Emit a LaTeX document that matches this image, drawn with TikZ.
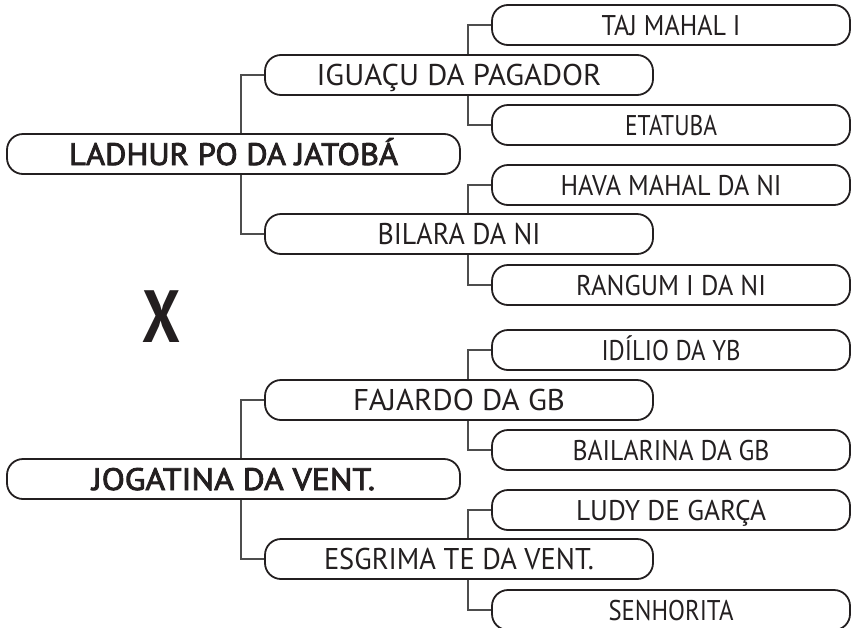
\documentclass[tikz,border=0pt]{standalone}
\usepackage{graphicx}
\usepackage{fontspec}
\setmainfont{PT Sans}
\newfontfamily\rootfont{PT Sans}[FakeBold=2.6]
\definecolor{ink}{HTML}{231F20}
\definecolor{wire}{HTML}{4D4D4D}
\newcommand{\fitto}[2]{\resizebox{#1}{\height}{#2}}
\begin{document}
\begin{tikzpicture}[x=1pt,y=-1pt,
  box/.style={draw=ink,line width=1.8pt,rounded corners=16pt,inner sep=0pt,
    minimum height=40pt,text=ink},
  rootbox/.style={box,minimum width=453pt,font=\rootfont\fontsize{31}{31}\selectfont,text height=22pt,text depth=0pt},
  midbox/.style={box,minimum width=388pt,font=\fontsize{30}{30}\selectfont,text height=21pt,text depth=0pt},
  leafbox/.style={box,minimum width=358pt,font=\fontsize{28.5}{28.5}\selectfont,text height=20pt,text depth=0pt},
  wireline/.style={draw=wire,line width=1.2pt}]
\useasboundingbox (0,0) rectangle (851,627);
% upper tree
\node[rootbox] (r1) at (233.5,154) {\fitto{329pt}{LADHUR PO DA JATOBÁ}};
\node[midbox] (igu) at (459,75) {\fitto{285pt}{IGUAÇU DA PAGADOR}};
\node[midbox] (bil) at (459,234) {\fitto{163pt}{BILARA DA NI}};
\node[leafbox] (taj) at (671,25) {\fitto{139pt}{TAJ MAHAL I}};
\node[leafbox] (eta) at (671,125) {\fitto{92pt}{ETATUBA}};
\node[leafbox] (hav) at (671,185) {\fitto{221pt}{HAVA MAHAL DA NI}};
\node[leafbox] (ran) at (671,285) {\fitto{190pt}{RANGUM I DA NI}};
% X
\node[text=ink,font=\fontsize{74}{74}\selectfont\bfseries,inner sep=0pt,text height=52pt,text depth=0pt] (vs) at (161,316) {\fitto{38pt}{X}};
% lower tree
\node[rootbox] (r2) at (233.5,479) {\fitto{283pt}{JOGATINA DA VENT.}};
\node[midbox] (faj) at (459,400) {\fitto{212pt}{FAJARDO DA GB}};
\node[midbox] (esg) at (459,559) {\fitto{270pt}{ESGRIMA TE DA VENT.}};
\node[leafbox] (idi) at (671,350) {\fitto{139pt}{IDÍLIO DA YB}};
\node[leafbox] (bai) at (671,450) {\fitto{197pt}{BAILARINA DA GB}};
\node[leafbox] (lud) at (671,510) {\fitto{190pt}{LUDY DE GARÇA}};
\node[leafbox] (sen) at (671,610) {\fitto{125pt}{SENHORITA}};
% connectors
\draw[wireline] ([xshift=7.5pt]r1.north) |- (igu.west);
\draw[wireline] ([xshift=7.5pt]r1.south) |- (bil.west);
\draw[wireline] ([xshift=9pt]igu.north) |- (taj.west);
\draw[wireline] ([xshift=9pt]igu.south) |- (eta.west);
\draw[wireline] ([xshift=9pt]bil.north) |- (hav.west);
\draw[wireline] ([xshift=9pt]bil.south) |- (ran.west);
\draw[wireline] ([xshift=7.5pt]r2.north) |- (faj.west);
\draw[wireline] ([xshift=7.5pt]r2.south) |- (esg.west);
\draw[wireline] ([xshift=9pt]faj.north) |- (idi.west);
\draw[wireline] ([xshift=9pt]faj.south) |- (bai.west);
\draw[wireline] ([xshift=9pt]esg.north) |- (lud.west);
\draw[wireline] ([xshift=9pt]esg.south) |- (sen.west);
\end{tikzpicture}
\end{document}
